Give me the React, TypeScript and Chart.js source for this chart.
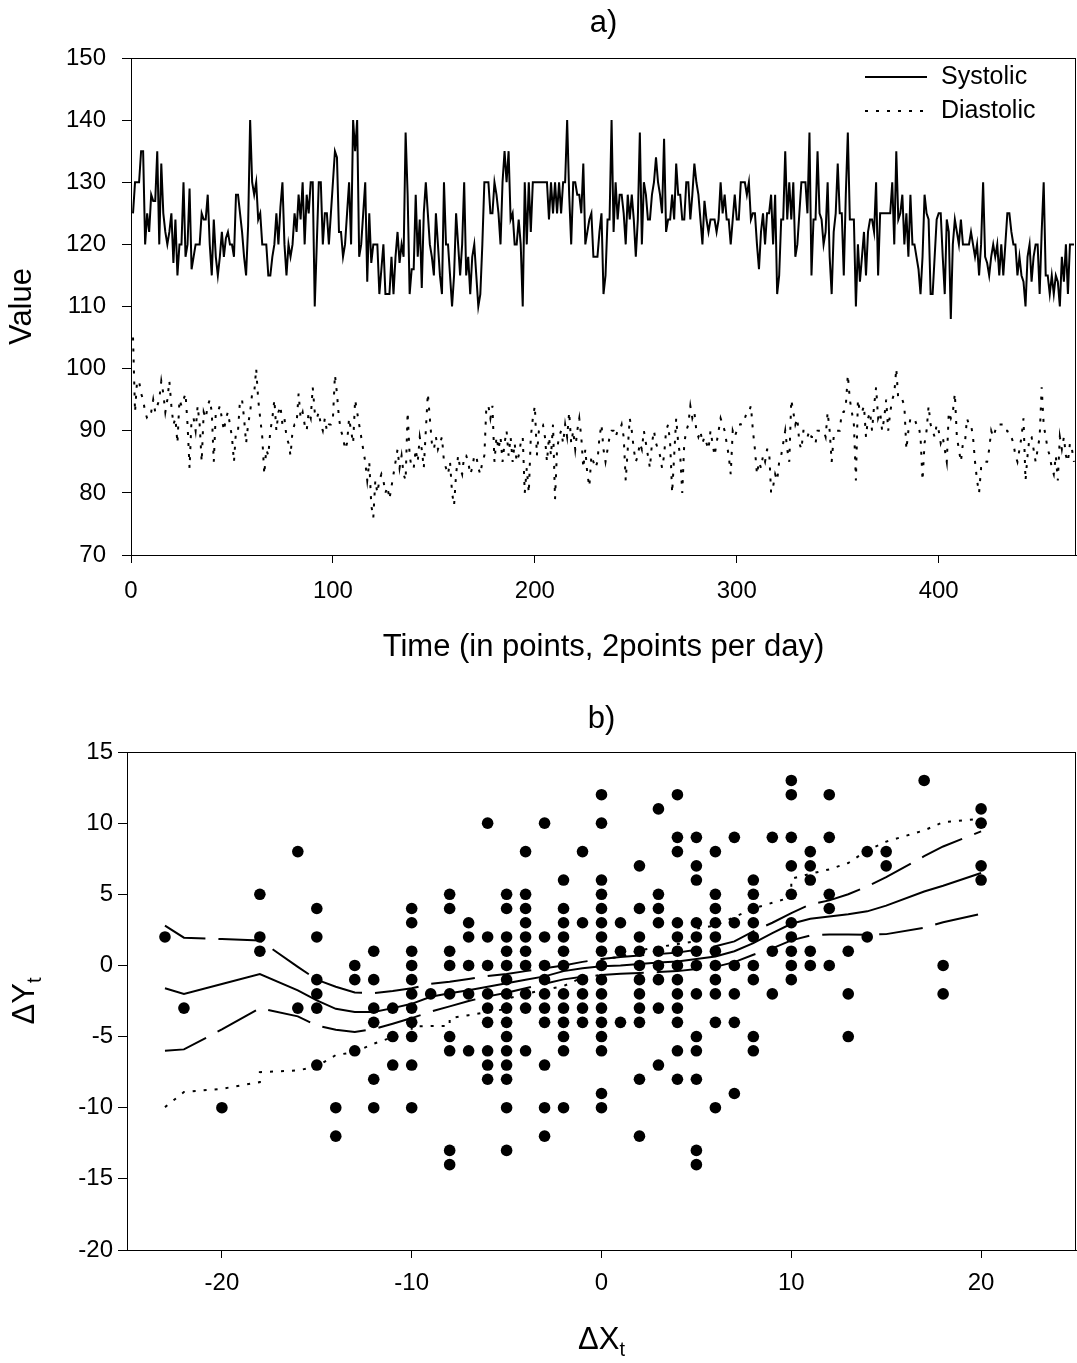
import React, { useEffect, useRef } from "react";
import { Chart, registerables } from "chart.js";

Chart.register(...registerables);

const FONT = '"Liberation Sans", Arial, Helvetica, sans-serif';

// ---------- Panel a) : time series ----------
const systolic = [
  125,130,130,130,135,135,120,125,122,128,
  127,127,135,120,133,125,122,120,122,125,
  117,124,115,120,120,130,118,120,129,116,
  118,120,120,120,125,124,124,128,120,115,
  124,118,115,118,122,118,121,122,120,120,
  118,128,128,125,122,118,115,123,140,130,
  128,130,124,125,120,120,120,115,115,118,
  120,125,120,126,130,120,115,
  120,118,120,125,122,128,124,130,120,128,
  125,130,130,110,120,130,130,120,125,125,
  120,125,130,135,134,122,122,118,120,125,
  130,120,140,135,140,118,120,125,130,114,
  125,117,120,120,120,112,116,120,112,112,
  112,118,112,118,122,117,120,118,138,128,
  112,116,116,128,118,124,113,125,130,125,
  120,118,115,125,120,115,112,130,120,
  120,115,110,115,125,120,115,120,130,115,
  118,112,118,120,115,110,112,120,130,130,
  130,125,125,130,128,125,120,130,135,130,
  135,124,125,120,120,124,120,110,130,120,
  130,122,130,130,130,130,130,130,130,130,
  124,130,125,130,125,130,125,130,130,140,
  128,120,130,130,128,128,125,133,120,122,
  124,125,118,118,118,122,125,112,115,124,
  124,140,122,130,124,128,128,125,120,128,
  124,128,124,118,124,138,120,130,128,124,
  124,128,130,134,130,128,125,137,122,124,
  124,128,124,133,128,128,124,124,130,130,
  124,128,133,130,128,124,120,127,124,122,
  124,124,124,122,124,130,125,128,124,124,
  120,124,128,124,124,130,130,130,128,130,
  124,125,125,120,116,122,125,120,125,
  125,128,120,128,112,115,124,124,135,124,
  130,124,130,118,120,125,130,130,130,125,
  138,115,124,124,135,125,124,120,122,130,
  118,112,122,125,133,125,125,115,128,138,
  124,124,124,110,120,114,118,122,115,122,
  124,124,122,130,115,125,125,125,125,125,
  125,130,120,135,124,125,128,120,125,118,
  128,120,120,118,116,112,118,128,125,124,
  112,112,118,124,125,125,118,112,124,122,
  108,120,124,122,120,124,120,120,120,120,
  122,120,118,120,115,120,130,118,117,115,
  118,120,118,120,115,120,115,120,125,125,
  122,120,120,115,118,115,114,110,118,120,
  114,118,120,120,112,122,130,115,115,112,
  115,112,115,114,110,118,114,120,112,120,
  120,120,
];

const diastolic = [
  105,93,98,98,96,95,93,92,92,93,
  95,93,94,95,98,96,93,95,98,94,
  91,92,88,95,94,95,96,91,84,92,
  92,90,94,91,85,93,92,94,95,93,
  85,93,93,94,92,90,92,93,91,89,
  85,90,90,95,95,92,88,91,93,96,
  96,100,95,92,89,83,87,86,90,92,
  95,90,93,94,91,92,89,
  88,86,90,91,91,96,92,93,91,90,
  93,92,97,93,92,93,91,90,92,90,
  91,91,92,99,96,92,90,89,87,88,
  92,90,88,95,93,91,89,87,85,82,
  85,78,76,82,80,82,83,82,80,81,
  79,81,83,85,87,84,86,83,82,93,
  86,84,84,87,85,89,87,84,90,96,
  92,88,87,89,87,88,89,85,84,
  83,85,80,78,83,86,84,83,86,86,
  85,83,84,86,86,84,83,85,86,94,
  94,92,94,85,89,87,89,85,88,90,
  86,89,85,88,85,86,88,89,80,84,
  80,89,92,94,86,90,91,91,89,85,
  89,86,91,79,87,89,90,88,91,89,
  93,88,90,87,90,92,89,84,87,83,
  81,86,85,84,85,89,91,87,85,87,
  89,90,90,89,90,90,91,89,82,87,
  92,90,87,85,86,88,87,90,88,86,
  84,88,90,88,87,86,84,86,90,91,
  88,80,86,92,88,86,80,88,90,91,
  94,92,93,90,89,90,88,89,88,87,
  90,88,86,88,90,92,91,90,88,86,
  83,90,89,90,91,91,92,92,93,93,
  94,90,87,83,85,84,86,85,87,
  87,80,81,83,82,85,86,88,90,87,
  85,95,93,91,92,88,87,90,90,89,
  90,89,89,88,90,90,90,90,89,93,
  90,85,89,90,90,90,93,93,94,99,
  95,93,91,82,95,93,93,94,89,92,
  93,90,94,97,92,93,90,92,95,90,
  93,95,96,100,95,95,95,94,87,90,
  92,92,92,91,91,89,82,88,90,94,
  91,90,89,91,90,88,89,87,85,93,
  92,93,96,89,87,85,88,88,92,91,
  91,89,85,82,80,84,84,85,85,87,
  90,89,90,91,91,91,91,90,90,89,
  89,88,86,85,87,89,92,82,86,89,
  89,87,85,87,89,97,91,89,87,86,
  84,83,86,82,89,87,89,86,85,88,
  87,85,
];

const timeRange = [0, 468];
const timeTickValues = [0, 100, 200, 300, 400];
const valueRange = [70, 150];
const valueTickValues = [70, 80, 90, 100, 110, 120, 130, 140, 150];

// ---------- Panel b) : scatter ----------
const scatterDx = [
  -23, -22, -20, -18, -16, -15, -14, -13, -12, -11, -10, -9, -8, -7, -6, -5, -4, -3, -2, -1,
  0, 1, 2, 3, 4, 5, 6, 7, 8, 9, 10, 11, 12, 13, 14, 15, 17, 18, 20,
];
const scatterDyLists = [
  [2],
  [-3],
  [-10],
  [5, 2, 1],
  [8, -3],
  [4, 2, -1, -2, -3, -7],
  [-10, -12],
  [0, -1, -6],
  [1, -1, -3, -4, -8, -10],
  [-3, -5, -7],
  [4, 3, 1, 0, -1, -2, -3, -4, -5, -7, -10],
  [-2],
  [5, 4, 1, 0, -2, -5, -6, -13, -14],
  [3, 2, 0, -2, -6],
  [10, 2, 0, -2, -3, -4, -6, -7, -8],
  [5, 4, 2, 1, 0, -1, -2, -3, -4, -5, -6, -7, -8, -10, -13],
  [8, 5, 4, 3, 2, 1, 0, -2, -3, -6],
  [10, 2, 0, -1, -2, -3, -4, -7, -10, -12],
  [6, 4, 3, 2, 1, 0, -2, -3, -4, -5, -6, -10],
  [8, 3, -1, -2, -3, -4],
  [12, 10, 6, 5, 4, 3, 2, 1, 0, -1, -2, -3, -4, -5, -6, -9, -10],
  [3, 1, -4],
  [7, 4, 2, 1, 0, -1, -2, -3, -4, -8, -12],
  [11, 5, 4, 3, 1, 0, -1, -3, -7],
  [12, 9, 8, 3, 2, 1, 0, -1, -2, -3, -4, -6, -8],
  [9, 7, 6, 3, 2, 1, 0, -2, -5, -6, -8, -13, -14],
  [8, 5, 4, 3, 2, 1, 0, -1, -2, -4, -10],
  [9, 3, 0, -2, -4, -9],
  [6, 5, 4, 3, 2, 0, -1, -5, -6],
  [9, 1, -2],
  [13, 12, 9, 7, 5, 3, 2, 1, 0, -1],
  [8, 7, 6, 1, 0],
  [12, 9, 5, 4, 0],
  [1, -2, -5],
  [8, 2],
  [8, 7],
  [13],
  [0, -2],
  [11, 10, 7, 6],
];

const curveDx = [
  -23, -22, -20, -18, -16, -15, -14, -13, -12, -11, -10, -9, -8, -7, -6, -5, -4, -3, -2, -1,
  0, 1, 2, 3, 4, 5, 6, 7, 8, 9, 10, 11, 12, 13, 14, 15, 17, 18, 20,
];
const midCurve = [
  -1.6, -2.0, -1.3, -0.6, -1.75, -2.45, -3.05, -3.28, -3.28, -3.0, -2.7, -2.2, -1.95, -1.75, -1.5, -1.25, -1.0, -0.77, -0.4, -0.2,
  -0.05, 0.0, 0.1, 0.2, 0.28, 0.45, 0.63, 1.0, 1.57, 2.27, 2.93, 3.28, 3.44, 3.6, 3.8, 4.2, 5.2, 5.6, 6.5,
];
const upperCurve = [
  2.8, 1.95, 1.85, 1.76, -0.1, -1.0, -1.5, -1.9, -1.94, -1.8, -1.6, -1.3, -1.15, -0.95, -0.75, -0.6, -0.4, -0.2, 0.0, 0.25,
  0.45, 0.59, 0.7, 0.8, 0.9, 1.1, 1.35, 1.69, 2.4, 3.0, 3.68, 4.29, 4.57, 5.0, 5.55, 6.2, 7.68, 8.36, 9.42,
];
const lowerCurve = [
  -6.0, -5.9, -4.5, -3.0, -3.58, -4.22, -4.52, -4.68, -4.47, -4.1, -3.7, -3.25, -2.88, -2.5, -2.18, -1.92, -1.6, -1.29, -0.98, -0.8,
  -0.68, -0.59, -0.53, -0.47, -0.4, -0.25, -0.1, 0.23, 0.75, 1.2, 1.76, 2.1, 2.18, 2.18, 2.16, 2.2, 2.65, 3.04, 3.63,
];
const dottedDx = [
  -23, -22, -20, -18, -18, -16, -15, -14, -13, -12, -11, -10, -10, -9, -8, -8, -7, -6, -5, -5,
  -4, -3, -2, -1, 0, 0, 1, 2, 3, 4, 5, 5, 6, 7, 8, 9, 10, 10, 11, 12, 13, 14, 15, 17, 18, 20,
];
const dottedDy = [
  -9.96, -8.9, -8.67, -8.2, -7.5, -7.38, -7.1, -6.3, -6.09, -5.5, -5.04, -4.9, -4.3, -4.26, -4.26, -3.7, -3.5, -3.28, -3.05, -2.34,
  -2.0, -1.71, -1.45, -0.85, -0.66, 0.45, 0.6, 1.05, 1.29, 1.5, 1.7, 2.58, 2.81, 3.4, 4.0, 4.4, 4.8, 6.09, 6.44, 6.75,
  7.2, 8.08, 8.7, 9.49, 10.07, 10.3,
];

const dxRange = [-25, 25];
const dxTickValues = [-20, -10, 0, 10, 20];
const dyRange = [-20, 15];
const dyTickValues = [-20, -15, -10, -5, 0, 5, 10, 15];

// ---------- helpers ----------
const DOT_DASH = [3, 8];
const LONG_DASH = [44, 13];
const TICK_SIZE = 24;
const TITLE_SIZE = 31;

function boxPlugin(id: string) {
  return {
    id,
    afterDatasetsDraw(chart: any) {
      const { ctx, chartArea: a } = chart;
      ctx.save();
      ctx.strokeStyle = "#000";
      ctx.lineWidth = 1;
      ctx.setLineDash([]);
      const l = Math.round(a.left) + 0.5;
      const t = Math.round(a.top) + 0.5;
      const r = Math.round(a.right) - 0.5;
      const b = Math.round(a.bottom) + 0.5;
      ctx.strokeRect(l, t, r - l, b - t);
      ctx.restore();
    },
  };
}

function centerTitlePlugin(id: string, text: string, y: number) {
  return {
    id,
    afterDraw(chart: any) {
      const { ctx, chartArea: a } = chart;
      ctx.save();
      ctx.font = `${TITLE_SIZE}px ${FONT}`;
      ctx.fillStyle = "#000";
      ctx.textAlign = "center";
      ctx.textBaseline = "middle";
      ctx.fillText(text, (a.left + a.right) / 2, y);
      ctx.restore();
    },
  };
}

function drawSubscripted(ctx: CanvasRenderingContext2D, main: string, sub: string, cx: number, cy: number, rotate: boolean) {
  ctx.save();
  ctx.translate(cx, cy);
  if (rotate) ctx.rotate(-Math.PI / 2);
  ctx.fillStyle = "#000";
  ctx.textAlign = "left";
  ctx.textBaseline = "alphabetic";
  ctx.font = `${TITLE_SIZE}px ${FONT}`;
  const w1 = ctx.measureText(main).width;
  ctx.font = `20px ${FONT}`;
  const w2 = ctx.measureText(sub).width;
  const start = -(w1 + w2) / 2;
  ctx.font = `${TITLE_SIZE}px ${FONT}`;
  ctx.fillText(main, start, 11);
  ctx.font = `20px ${FONT}`;
  ctx.fillText(sub, start + w1, 18);
  ctx.restore();
}

const insideLegendPlugin = {
  id: "insideLegend",
  afterDraw(chart: any) {
    const { ctx, chartArea: a } = chart;
    chart.data.datasets.forEach((ds: any, i: number) => {
      const y = a.top + 19 + i * 34;
      const x0 = a.right - 211;
      ctx.save();
      ctx.strokeStyle = "#000";
      ctx.lineWidth = ds.borderWidth;
      ctx.setLineDash(ds.borderDash || []);
      ctx.beginPath();
      ctx.moveTo(x0, y);
      ctx.lineTo(x0 + 62, y);
      ctx.stroke();
      ctx.setLineDash([]);
      ctx.font = `25px ${FONT}`;
      ctx.fillStyle = "#000";
      ctx.textAlign = "left";
      ctx.textBaseline = "middle";
      ctx.fillText(ds.label, x0 + 76, y);
      ctx.restore();
    });
  },
};

function axis(range: number[], tickValues: number[], tickPad: number, tickLen: number) {
  return {
    type: "linear",
    min: range[0],
    max: range[1],
    grid: { display: true, drawOnChartArea: false, drawTicks: true, tickLength: tickLen, color: "#000", lineWidth: 1 },
    border: { display: true, color: "#000", width: 1 },
    ticks: { color: "#000", font: { family: FONT, size: TICK_SIZE }, padding: tickPad, maxRotation: 0, autoSkip: false },
    afterBuildTicks: (s: any) => {
      s.ticks = tickValues.map((v) => ({ value: v }));
    },
  };
}

function fixSize(prop: "width" | "height", size: number) {
  return (s: any) => {
    s[prop] = size;
    s.paddingLeft = 0;
    s.paddingRight = 0;
    s.paddingTop = 0;
    s.paddingBottom = 0;
  };
}

export default function App() {
  const refA = useRef<HTMLCanvasElement | null>(null);
  const refB = useRef<HTMLCanvasElement | null>(null);

  useEffect(() => {
    const sysPts = systolic.map((v, i) => ({ x: i + 1, y: v }));
    const diaPts = diastolic.map((v, i) => ({ x: i + 1, y: v }));

    const chartA = new Chart(refA.current as HTMLCanvasElement, {
      type: "line",
      data: {
        datasets: [
          { label: "Systolic", data: sysPts, borderColor: "#000", borderWidth: 2, pointRadius: 0, tension: 0, fill: false },
          { label: "Diastolic", data: diaPts, borderColor: "#000", borderWidth: 2, borderDash: DOT_DASH, pointRadius: 0, tension: 0, fill: false },
        ],
      },
      options: {
        animation: false,
        responsive: false,
        layout: { autoPadding: false, padding: { top: 58, right: 1, left: 0, bottom: 0 } },
        plugins: { legend: { display: false }, tooltip: { enabled: false } },
        scales: {
          x: {
            ...axis(timeRange, timeTickValues, 14, 8),
            title: { display: true, text: "Time (in points, 2points per day)", color: "#000", font: { family: FONT, size: TITLE_SIZE }, padding: { top: 0, bottom: 14 } },
            afterFit: fixSize("height", 125),
          },
          y: {
            ...axis(valueRange, valueTickValues, 16, 9),
            title: { display: true, text: "Value", color: "#000", font: { family: FONT, size: TITLE_SIZE }, padding: { top: 4, bottom: 0 } },
            afterFit: fixSize("width", 131),
          },
        },
      } as any,
      plugins: [boxPlugin("boxA"), centerTitlePlugin("titleA", "a)", 23), insideLegendPlugin],
    });

    const scatterPts: { x: number; y: number }[] = [];
    scatterDx.forEach((dx, i) => {
      scatterDyLists[i].forEach((dy) => scatterPts.push({ x: dx, y: dy }));
    });
    const curve = (ys: number[], xs: number[]) => ys.map((y, i) => ({ x: xs[i], y }));

    const chartB = new Chart(refB.current as HTMLCanvasElement, {
      type: "scatter",
      data: {
        datasets: [
          { label: "points", data: scatterPts, pointRadius: 5.8, pointBackgroundColor: "#000", pointBorderWidth: 0, showLine: false },
          { label: "mid", data: curve(midCurve, curveDx), showLine: true, borderColor: "#000", borderWidth: 2, pointRadius: 0, tension: 0 },
          { label: "upper", data: curve(upperCurve, curveDx), showLine: true, borderColor: "#000", borderWidth: 2, borderDash: LONG_DASH, pointRadius: 0, tension: 0 },
          { label: "lower", data: curve(lowerCurve, curveDx), showLine: true, borderColor: "#000", borderWidth: 2, borderDash: LONG_DASH, pointRadius: 0, tension: 0 },
          { label: "dotted", data: curve(dottedDy, dottedDx), showLine: true, borderColor: "#000", borderWidth: 2, borderDash: DOT_DASH, pointRadius: 0, tension: 0 },
        ],
      },
      options: {
        animation: false,
        responsive: false,
        layout: { autoPadding: false, padding: { top: 72, right: 1, left: 0, bottom: 0 } },
        plugins: { legend: { display: false }, tooltip: { enabled: false } },
        scales: {
          x: {
            ...axis(dxRange, dxTickValues, 11, 8),
            afterFit: fixSize("height", 113),
          },
          y: {
            ...axis(dyRange, dyTickValues, 5, 9),
            afterFit: fixSize("width", 127),
          },
        },
      } as any,
      plugins: [
        boxPlugin("boxB"),
        centerTitlePlugin("titleB", "b)", 39),
        {
          id: "subTitlesB",
          afterDraw(chart: any) {
            const { ctx, chartArea: a } = chart;
            drawSubscripted(ctx, "\u0394X", "t", (a.left + a.right) / 2, 658, false);
            drawSubscripted(ctx, "\u0394Y", "t", 23, (a.top + a.bottom) / 2, true);
          },
        },
      ],
    });

    return () => {
      chartA.destroy();
      chartB.destroy();
    };
  }, []);

  return (
    <div style={{ position: "absolute", left: 0, top: 0, width: 1077, height: 1363, background: "#fff" }}>
      <canvas ref={refA} width={1077} height={680} style={{ position: "absolute", left: 0, top: 0, display: "block" }} />
      <canvas ref={refB} width={1077} height={683} style={{ position: "absolute", left: 0, top: 680, display: "block" }} />
    </div>
  );
}
